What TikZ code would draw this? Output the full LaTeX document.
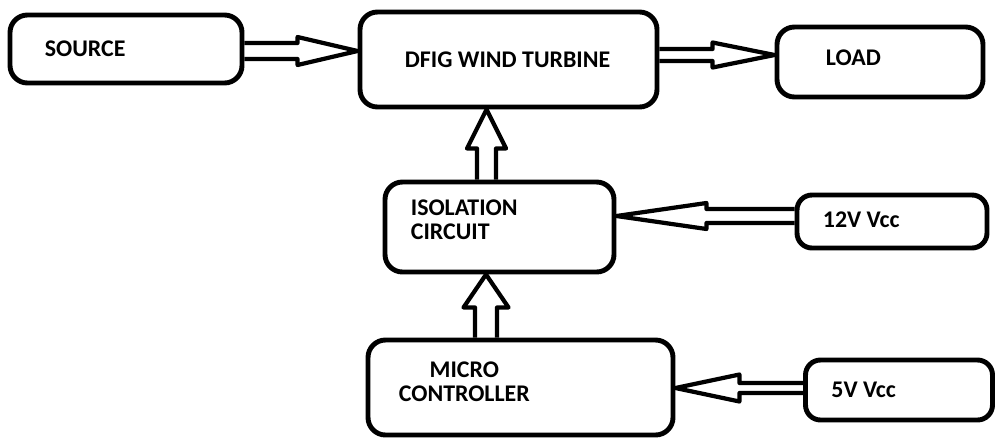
\documentclass[tikz,border=0pt]{standalone}
\usepackage{fontspec}
\setmainfont{Carlito}
\usepackage{tikz}
\usetikzlibrary{positioning,calc}

% hollow block arrow: from, to, shaft half width, head half width, head length
\newcommand{\blockarrow}[5]{%
  \coordinate (ba-s) at (#1);
  \coordinate (ba-t) at (#2);
  \coordinate (ba-h) at ($(ba-t)!#5!(ba-s)$);
  \draw[harrow] ($(ba-s)!#3!90:(ba-t)$) -- ($(ba-h)!#3!-90:(ba-s)$) -- ($(ba-h)!#4!-90:(ba-s)$)
    -- (ba-t) -- ($(ba-h)!#4!90:(ba-s)$) -- ($(ba-h)!#3!90:(ba-s)$) -- ($(ba-s)!#3!-90:(ba-t)$);
}

\begin{document}
\begin{tikzpicture}[
  blk/.style={draw,line width=2.8pt,rounded corners=0.35cm,inner sep=0pt},
  txt/.style={font=\fontsize{13.6}{13.8}\selectfont\bfseries,inner sep=0pt},
  harrow/.style={line width=2.4pt,line join=round}
]
  \useasboundingbox (0,0) rectangle (19.9,-8.8);

  % blocks
  \node[blk,minimum width=4.64cm,minimum height=1.36cm] (src) at (2.52,-0.98) {};
  \node[blk,minimum width=5.94cm,minimum height=1.90cm] (dfig) at (10.17,-1.19) {};
  \node[blk,minimum width=4.12cm,minimum height=1.40cm] (load) at (17.60,-1.24) {};
  \node[blk,minimum width=4.58cm,minimum height=1.80cm] (iso) at (9.99,-4.54) {};
  \node[blk,minimum width=3.80cm,minimum height=1.06cm,rounded corners=0.3cm] (v12) at (17.84,-4.43) {};
  \node[blk,minimum width=6.10cm,minimum height=1.90cm] (micro) at (10.41,-7.75) {};
  \node[blk,minimum width=3.74cm,minimum height=1.20cm,rounded corners=0.3cm] (v5) at (17.98,-7.80) {};

  % labels
  \node[txt,right=0.74cm of src.west] (srct) {SOURCE};
  \node[txt,right=0.94cm of dfig.west] (dfigt) {DFIG WIND TURBINE};
  \node[txt,right=1.02cm of load.west,yshift=0.08cm] (loadt) {LOAD};
  \node[txt,align=left,right=0.56cm of iso.west,yshift=0.15cm] (isot) {ISOLATION\\CIRCUIT};
  \node[txt,right=0.56cm of v12.west,yshift=0.03cm] (v12t) {12V Vcc};
  \node[txt,align=center,right=0.66cm of micro.west,yshift=0.11cm] (microt) {MICRO\\CONTROLLER};
  \node[txt,right=0.56cm of v5.west] (v5t) {5V Vcc};

  % arrows
  \blockarrow{[yshift=-0.04cm]src.east}{dfig.west |- ba-s}{0.16cm}{0.28cm}{1.2cm}
  \blockarrow{[yshift=0.09cm]dfig.east}{load.west |- ba-s}{0.12cm}{0.25cm}{1.24cm}
  \blockarrow{[xshift=-0.26cm]iso.north}{dfig.south -| ba-s}{0.19cm}{0.39cm}{0.78cm}
  \blockarrow{[yshift=0.11cm]v12.west}{iso.east |- ba-s}{0.14cm}{0.26cm}{1.8cm}
  \blockarrow{[xshift=-0.69cm]micro.north}{iso.south -| ba-s}{0.22cm}{0.45cm}{0.66cm}
  \blockarrow{[yshift=0.04cm]v5.west}{micro.east |- ba-s}{0.1cm}{0.27cm}{1.28cm}
\end{tikzpicture}
\end{document}
